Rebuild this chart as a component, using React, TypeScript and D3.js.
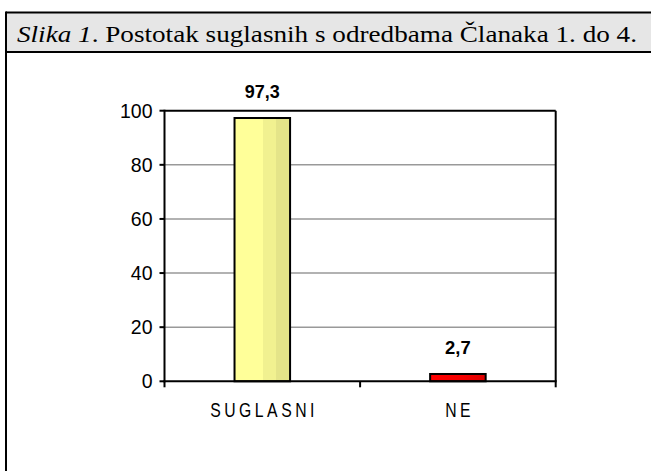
import React from "react";
import * as d3 from "d3";

const categories = ["SUGLASNI", "NE"];
const values = [97.3, 2.7];
const valueLabels = ["97,3", "2,7"];
const yTicks = [0, 20, 40, 60, 80, 100];
const titleItalic = "Slika 1";
const titleRest = ". Postotak suglasnih s odredbama Članaka 1. do 4.";

const W = 651;
const H = 471;
const plot = { left: 164.5, right: 555.7, top: 110.7, bottom: 381.3 };

const sans = "'Liberation Sans', Arimo, Arial, sans-serif";
const serif = "'Liberation Serif', Tinos, 'Times New Roman', serif";

export default function App() {
  const x = d3
    .scaleBand<string>()
    .domain(categories)
    .range([plot.left, plot.right])
    .paddingInner(0.716)
    .paddingOuter(0.358);
  const y = d3.scaleLinear().domain([0, 100]).range([plot.bottom, plot.top]);
  const bw = x.bandwidth();
  const boundaries = [plot.left, plot.left + (plot.right - plot.left) / 2, plot.right];
  const sx = 0.75;
  const ls = 4.7;

  return (
    <svg
      width={W}
      height={H}
      style={{ position: "absolute", left: 0, top: 0, background: "#fff" }}
    >
      <defs>
        <linearGradient id="yel" x1="0" x2="1" y1="0" y2="0">
          <stop offset="0" stopColor="#ffff99" />
          <stop offset="0.52" stopColor="#ffff99" />
          <stop offset="0.52" stopColor="#f1f190" />
          <stop offset="0.755" stopColor="#f1f190" />
          <stop offset="0.755" stopColor="#e4e489" />
          <stop offset="1" stopColor="#e4e489" />
        </linearGradient>
        <linearGradient id="red" x1="0" x2="1" y1="0" y2="0">
          <stop offset="0" stopColor="#ff0000" />
          <stop offset="0.6" stopColor="#f50000" />
          <stop offset="1" stopColor="#dd0000" />
        </linearGradient>
      </defs>
      {/* frame */}
      <rect x={6} y={12} width={W} height={40} fill="#e6e6e6" />
      <line x1={6} x2={W} y1={12.5} y2={12.5} stroke="#000" strokeWidth={2} />
      <line x1={6} x2={W} y1={52} y2={52} stroke="#000" strokeWidth={2} />
      <line x1={6} x2={6} y1={11.5} y2={H} stroke="#000" strokeWidth={2} />
      <text
        x={17}
        y={41.7}
        style={{ fontFamily: serif, fontSize: "23.5px" }}
        textLength={620}
        lengthAdjust="spacingAndGlyphs"
        fill="#000"
      >
        <tspan fontStyle="italic">{titleItalic}</tspan>
        {titleRest}
      </text>

      {/* gridlines */}
      {yTicks
        .filter((t) => t !== 0 && t !== 100)
        .map((t) => (
          <line
            key={"g" + t}
            x1={plot.left}
            x2={plot.right}
            y1={y(t)}
            y2={y(t)}
            stroke="#999"
            strokeWidth={1.5}
          />
        ))}
      {/* top & right border */}
      <line x1={plot.left} x2={plot.right} y1={plot.top} y2={plot.top} stroke="#000" strokeWidth={2} />
      <line x1={plot.right} x2={plot.right} y1={plot.top} y2={plot.bottom} stroke="#000" strokeWidth={2} />

      {/* bars */}
      {categories.map((c, i) => (
        <rect
          key={c}
          x={x(c)!}
          y={y(values[i])}
          width={bw}
          height={plot.bottom - y(values[i])}
          fill={i === 0 ? "url(#yel)" : "url(#red)"}
          stroke="#000"
          strokeWidth={2}
        />
      ))}

      {/* axes */}
      <line x1={plot.left} x2={plot.left} y1={plot.top - 1} y2={plot.bottom + 1} stroke="#000" strokeWidth={2} />
      <line x1={plot.left - 1} x2={plot.right + 1} y1={plot.bottom} y2={plot.bottom} stroke="#000" strokeWidth={2} />
      {yTicks.map((t) => (
        <g key={"t" + t}>
          <line x1={plot.left - 5} x2={plot.left} y1={y(t)} y2={y(t)} stroke="#000" strokeWidth={2} />
          <text
            x={152.5}
            y={y(t) + 7}
            textAnchor="end"
            style={{ fontFamily: sans, fontSize: "19.5px" }}
            fill="#000"
          >
            {t}
          </text>
        </g>
      ))}
      {boundaries.map((b, i) => (
        <line key={"xt" + i} x1={b} x2={b} y1={plot.bottom} y2={plot.bottom + 6} stroke="#000" strokeWidth={2} />
      ))}
      {categories.map((c) => {
        const cx = x(c)! + bw / 2;
        return (
          <g key={"xl" + c} transform={`translate(${cx},417) scale(${sx},1)`}>
            <text
              x={ls / 2}
              y={0}
              textAnchor="middle"
              style={{ fontFamily: sans, fontSize: "21px", letterSpacing: `${ls}px` }}
              fill="#000"
            >
              {c}
            </text>
          </g>
        );
      })}
      {/* value labels */}
      {categories.map((c, i) => (
        <text
          key={"v" + c}
          x={x(c)! + bw / 2}
          y={i === 0 ? 98.3 : 354.3}
          textAnchor="middle"
          style={{ fontFamily: sans, fontSize: "19px", fontWeight: "bold" }}
          textLength={i === 0 ? 35 : 25.6}
          lengthAdjust="spacingAndGlyphs"
          fill="#000"
        >
          {valueLabels[i]}
        </text>
      ))}
    </svg>
  );
}
